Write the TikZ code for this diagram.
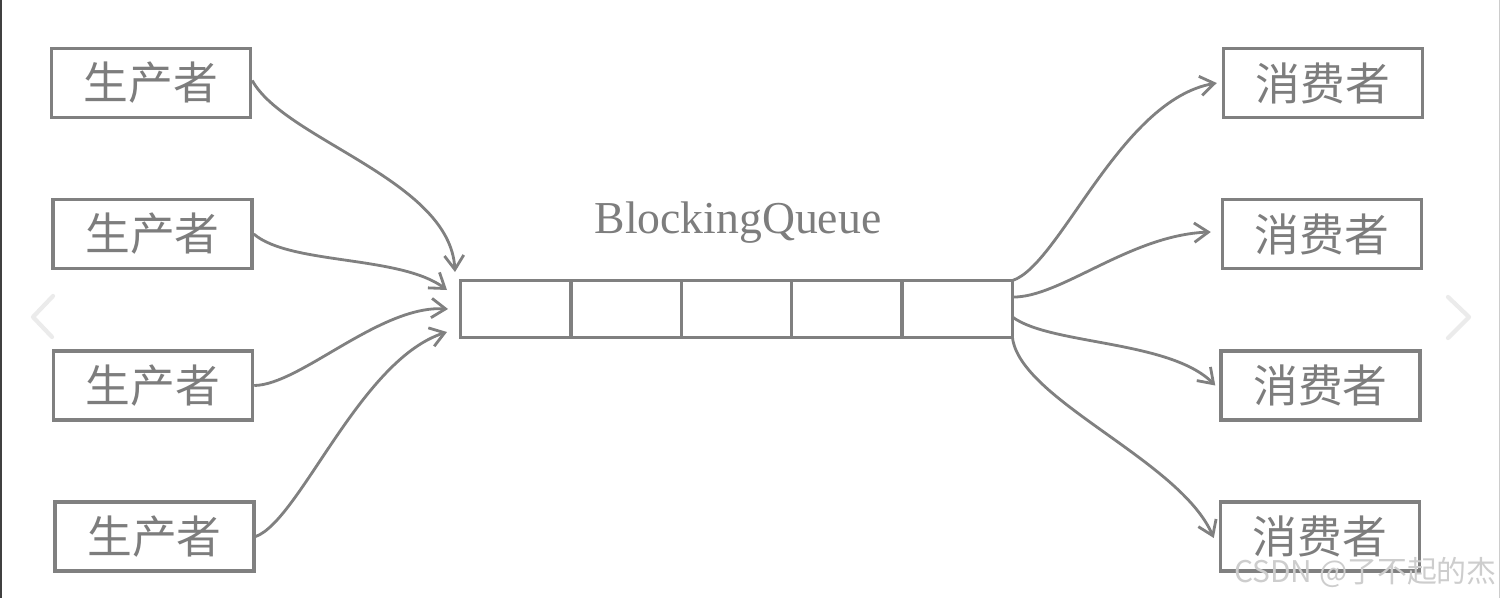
\documentclass[tikz,border=0pt]{standalone}
\usepackage{fontspec}
\setmainfont{Liberation Serif}
\newfontfamily\cjk{Noto Sans CJK SC}
\usetikzlibrary{arrows.meta,calc}
\definecolor{linegray}{RGB}{128,128,128}
\definecolor{textgray}{RGB}{125,125,125}
\definecolor{wmgray}{RGB}{205,205,205}
\begin{document}
\begin{tikzpicture}[x=0.02cm,y=-0.02cm,
  rolebox/.style={draw=linegray, line width=2pt, minimum width=3.98cm,
    minimum height=1.38cm, inner sep=0pt, text=textgray,
    font=\cjk\fontsize{25.5pt}{27pt}\selectfont},
  queuebox/.style={draw=linegray, line width=2pt, minimum width=11.04cm,
    minimum height=1.14cm, inner sep=0pt, outer sep=0pt},
  qline/.style={draw=linegray, line width=2pt},
  flow/.style={draw=linegray, line width=1.6pt,
    -{Straight Barb[length=8pt,width=11pt,line width=1.6pt]}},
  chevron/.style={draw=black!8, line width=2.4pt, line cap=round, line join=round}]
\useasboundingbox (0,0) rectangle (1501,598);
\fill[white] (0,0) rectangle (1501,598);
\fill[black!75] (0,0) rectangle (1.6,598);
\draw[black!20, line width=0.6pt] (1499.5,0) -- (1499.5,598);

% carousel chevrons
\draw[chevron] (53,296) -- (33,317) -- (52,337);
\draw[chevron] (1448,297) -- (1469,317) -- (1448,338);

% producers
\node[rolebox] (p1) at (151,83) {生产者};
\node[rolebox] (p2) at (152.5,234) {生产者};
\node[rolebox] (p3) at (153,385.5) {生产者};
\node[rolebox] (p4) at (154.5,536.5) {生产者};

% consumers
\node[rolebox] (c1) at (1323,83) {消费者};
\node[rolebox] (c2) at (1322,234) {消费者};
\node[rolebox] (c3) at (1320.5,385.5) {消费者};
\node[rolebox] (c4) at (1320,536.5) {消费者};

% queue
\node[queuebox] (q) at (736.5,309) {};
\foreach \k in {1,...,4}
  \draw[qline] ($(q.north west)!\k/5!(q.north east)$) -- ($(q.south west)!\k/5!(q.south east)$);
\node[anchor=base, text=textgray, font=\fontsize{26pt}{28pt}\selectfont, inner sep=0pt] (title) at (738,233) {BlockingQueue};

% arrow ends at the queue
\coordinate (t1) at (455,272);
\coordinate (t2) at (447,290);
\coordinate (t3) at (448,309);
\coordinate (t4) at (447,332);
% arrow starts on the queue
\coordinate (s1) at (q.north east);
\coordinate (s2) at ($(q.north east)!0.29!(q.south east)$);
\coordinate (s3) at ($(q.north east)!0.64!(q.south east)$);
\coordinate (s4) at (q.south east);

\draw[flow] ([yshift=0.05cm]p1.east) .. controls (285,140) and (450,180) .. (t1);
\draw[flow] (p2.east) .. controls (290,265) and (400,255) .. (t2);
\draw[flow] (p3.east) .. controls (300,385) and (380,305) .. (t3);
\draw[flow] (p4.east) .. controls (300,520) and (360,360) .. (t4);

\draw[flow] (s1) .. controls (1060,265) and (1120,100) .. ([xshift=-0.1cm]c1.west);
\draw[flow] (s2) .. controls (1060,298) and (1130,235) .. ([xshift=-0.2cm,yshift=0.04cm]c2.west);
\draw[flow] (s3) .. controls (1050,345) and (1170,340) .. ([xshift=-0.08cm]c3.west);
\draw[flow] (s4) .. controls (1020,400) and (1180,460) .. ([xshift=-0.1cm,yshift=-0.03cm]c4.west);

% watermark
\node[anchor=base east, inner sep=0pt, text=wmgray, font=\cjk\fontsize{17pt}{19pt}\selectfont] (wm) at (1497,582) {CSDN @了不起的杰};
\end{tikzpicture}
\end{document}
